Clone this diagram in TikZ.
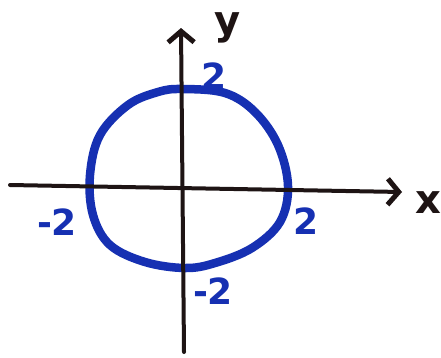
\documentclass[tikz,border=0pt]{standalone}
\usetikzlibrary{arrows.meta}
\usepackage{fontspec}
\setmainfont{DejaVu Sans}
\definecolor{pen}{RGB}{22,48,178}
\definecolor{ink}{RGB}{30,20,20}
\tikzset{
  axis/.style={draw=ink, line width=4pt, line cap=round, -{Straight Barb[length=11pt,width=26pt,line width=5pt]}},
  curve/.style={draw=pen, line width=8.5pt},
  numlabel/.style={text=pen, font=\bfseries\fontsize{36}{36}\selectfont, inner sep=0pt},
  axlabel/.style={text=ink, font=\bfseries\fontsize{40}{40}\selectfont, inner sep=0pt}
}
\begin{document}
\begin{tikzpicture}[x=1pt,y=-1pt]
\useasboundingbox (0,0) rectangle (441,357);
\fill[white] (0,0) rectangle (441,357);
\coordinate (xs) at (10,185);
\coordinate (xe) at (402,192);
\coordinate (ys) at (184,352);
\coordinate (ye) at (181,28);
\draw[curve] plot[smooth cycle, tension=0.6] coordinates {
 (182,89) (225,93) (255,112) (278,145) (288,186) (280,222) (252,248) (215,263) (185,268)
 (145,262) (110,245) (93,215) (90,175) (100,135) (128,105) (158,92)};
\draw[axis] (xs) -- (xe);
\draw[axis] (ys) -- (ye);
\node[axlabel] (ylab) at (228,28) {y};
\node[axlabel] (xlab) at (428,203) {x};
\node[numlabel] (t2) at (214,76) {2};
\node[numlabel] (r2) at (306,221) {2};
\node[numlabel] (l2) at (57,222) {-2};
\node[numlabel] (b2) at (213,291) {-2};
\end{tikzpicture}
\end{document}
